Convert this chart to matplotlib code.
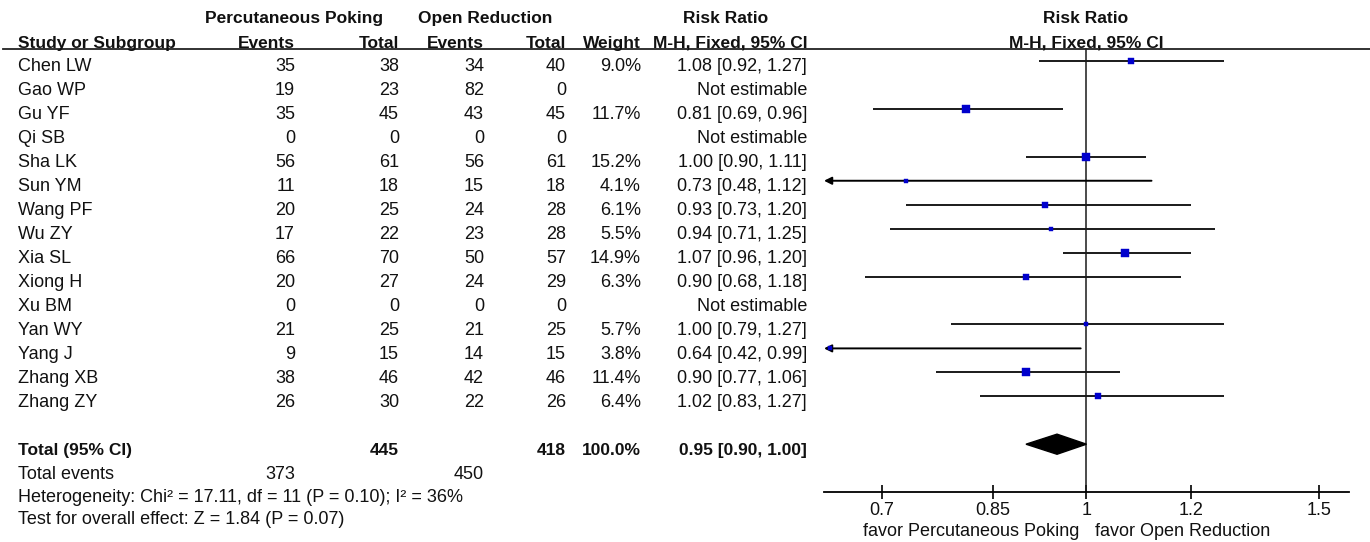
import numpy as np
import matplotlib
matplotlib.use('Agg')
from matplotlib import pyplot as plt
from matplotlib.lines import Line2D

plt.rcParams['font.family'] = ['Liberation Sans', 'DejaVu Sans']

'''
Data read from the forest plot
'''

studies = ['Chen LW', 'Gao WP', 'Gu YF', 'Qi SB', 'Sha LK', 'Sun YM', 'Wang PF', 'Wu ZY',
           'Xia SL', 'Xiong H', 'Xu BM', 'Yan WY', 'Yang J', 'Zhang XB', 'Zhang ZY']
pp_events = [35, 19, 35, 0, 56, 11, 20, 17, 66, 20, 0, 21, 9, 38, 26]
pp_total = [38, 23, 45, 0, 61, 18, 25, 22, 70, 27, 0, 25, 15, 46, 30]
or_events = [34, 82, 43, 0, 56, 15, 24, 23, 50, 24, 0, 21, 14, 42, 22]
or_total = [40, 0, 45, 0, 61, 18, 28, 28, 57, 29, 0, 25, 15, 46, 26]
weights = [9.0, None, 11.7, None, 15.2, 4.1, 6.1, 5.5, 14.9, 6.3, None, 5.7, 3.8, 11.4, 6.4]
rr = [1.08, None, 0.81, None, 1.00, 0.73, 0.93, 0.94, 1.07, 0.90, None, 1.00, 0.64, 0.90, 1.02]
rr_lo = [0.92, None, 0.69, None, 0.90, 0.48, 0.73, 0.71, 0.96, 0.68, None, 0.79, 0.42, 0.77, 0.83]
rr_hi = [1.27, None, 0.96, None, 1.11, 1.12, 1.20, 1.25, 1.20, 1.18, None, 1.27, 0.99, 1.06, 1.27]

total_pp = 445
total_or = 418
events_pp = 373
events_or = 450
total_rr = 0.95
total_lo = 0.90
total_hi = 1.00

xticks = [0.7, 0.85, 1, 1.2, 1.5]
xticklabels = ['0.7', '0.85', '1', '1.2', '1.5']
xlims = (0.633, 1.58)

het_text = 'Heterogeneity: Chi\u00b2 = 17.11, df = 11 (P = 0.10); I\u00b2 = 36%'
effect_text = 'Test for overall effect: Z = 1.84 (P = 0.07)'

'''
Layout helpers (pixel positions)
'''
W, H = 1370, 542
fig = plt.figure(figsize=(W / 100, H / 100), dpi=100)

def fx(p):
    return p / W

def fy(p):
    return 1 - p / H

FS = 13
FSB = 12.5
row0, rowstep = 65, 24      # text centre of first row, spacing
base = 6                    # centre -> baseline

def put(x, ycen, s, ha='left', bold=False):
    fig.text(fx(x), fy(ycen + base), s, ha=ha, va='baseline',
             fontsize=FSB if bold else FS,
             fontweight='bold' if bold else 'normal', color='#111111')

# column right edges
c_ev1, c_tot1, c_ev2, c_tot2, c_w, c_rr = 295, 399, 484, 566, 641, 807

# headers
put(294, 16.7, 'Percutaneous Poking', ha='center', bold=True)
put(485, 16.7, 'Open Reduction', ha='center', bold=True)
put(726, 16.7, 'Risk Ratio', ha='center', bold=True)
put(1086, 16.7, 'Risk Ratio', ha='center', bold=True)
put(18, 41.7, 'Study or Subgroup', bold=True)
put(c_ev1, 41.7, 'Events', ha='right', bold=True)
put(c_tot1, 41.7, 'Total', ha='right', bold=True)
put(c_ev2, 41.7, 'Events', ha='right', bold=True)
put(c_tot2, 41.7, 'Total', ha='right', bold=True)
put(c_w, 41.7, 'Weight', ha='right', bold=True)
put(c_rr, 41.7, 'M-H, Fixed, 95% CI', ha='right', bold=True)
put(1086, 41.7, 'M-H, Fixed, 95% CI', ha='center', bold=True)

fig.add_artist(Line2D([fx(3), 1], [fy(49), fy(49)], color='#222222', lw=1.3))

# study rows
for i, name in enumerate(studies):
    y = row0 + rowstep * i
    put(18, y, name)
    put(c_ev1, y, str(pp_events[i]), ha='right')
    put(c_tot1, y, str(pp_total[i]), ha='right')
    put(c_ev2, y, str(or_events[i]), ha='right')
    put(c_tot2, y, str(or_total[i]), ha='right')
    if rr[i] is None:
        put(c_rr, y, 'Not estimable', ha='right')
    else:
        put(c_w, y, '%.1f%%' % weights[i], ha='right')
        put(c_rr, y, '%.2f [%.2f, %.2f]' % (rr[i], rr_lo[i], rr_hi[i]), ha='right')

n = len(studies)
y_tot = row0 + rowstep * (n + 1)
put(18, y_tot, 'Total (95% CI)', bold=True)
put(c_tot1, y_tot, str(total_pp), ha='right', bold=True)
put(c_tot2, y_tot, str(total_or), ha='right', bold=True)
put(c_w, y_tot, '100.0%', ha='right', bold=True)
put(c_rr, y_tot, '%.2f [%.2f, %.2f]' % (total_rr, total_lo, total_hi), ha='right', bold=True)

put(18, y_tot + 24, 'Total events')
put(c_ev1, y_tot + 24, str(events_pp), ha='right')
put(c_ev2, y_tot + 24, str(events_or), ha='right')
put(18, y_tot + 47, het_text)
put(18, y_tot + 69, effect_text)

'''
Forest plot panel
'''
ax_l, ax_r, ax_t, ax_b = 824, 1349, 48, 491.7
ax = fig.add_axes([fx(ax_l), fy(ax_b), (ax_r - ax_l) / W, (ax_b - ax_t) / H])
ax.set_xscale('log')
ax.set_xlim(*xlims)
m0, mstep = 61, 23.95
ax.set_ylim((ax_b - m0) / mstep, (ax_t - m0) / mstep)

line_col = '#1a1a1a'
for i in range(n):
    if rr[i] is None:
        continue
    if rr_lo[i] < xlims[0]:
        ax.annotate('', xy=(xlims[0], i), xytext=(rr_hi[i], i),
                    arrowprops=dict(arrowstyle='-|>', color='black', lw=1.4,
                                    mutation_scale=11, shrinkA=0, shrinkB=0))
    else:
        ax.plot([rr_lo[i], rr_hi[i]], [i, i], color=line_col, lw=1.4, solid_capstyle='butt')
    ax.plot(rr[i], i, marker='s', ms=1.5 * np.sqrt(weights[i]), color='#0000cc',
            mec='#0000cc', mew=0.3, zorder=4, clip_on=False)

# pooled diamond
d = 0.42
ax.fill([total_lo, total_rr, total_hi, total_rr], [n + 1, n + 1 - d, n + 1, n + 1 + d],
        color='black', zorder=3)

ax.axvline(1, color=line_col, lw=1.1, zorder=2)

for s in ['top', 'left', 'right']:
    ax.spines[s].set_visible(False)
ax.spines['bottom'].set_linewidth(1.3)
ax.set_yticks([])
ax.set_xticks(xticks)
ax.set_xticklabels(xticklabels)
ax.xaxis.set_minor_locator(matplotlib.ticker.NullLocator())
ax.tick_params(axis='x', direction='inout', length=9.5, width=1.2, pad=2.5,
               labelsize=FS, labelcolor='#111111')
ax.patch.set_alpha(0)

put(1079, 530, 'favor Percutaneous Poking', ha='right')
put(1095, 530, 'favor Open Reduction', ha='left')

plt.savefig('out.png', dpi=100)
